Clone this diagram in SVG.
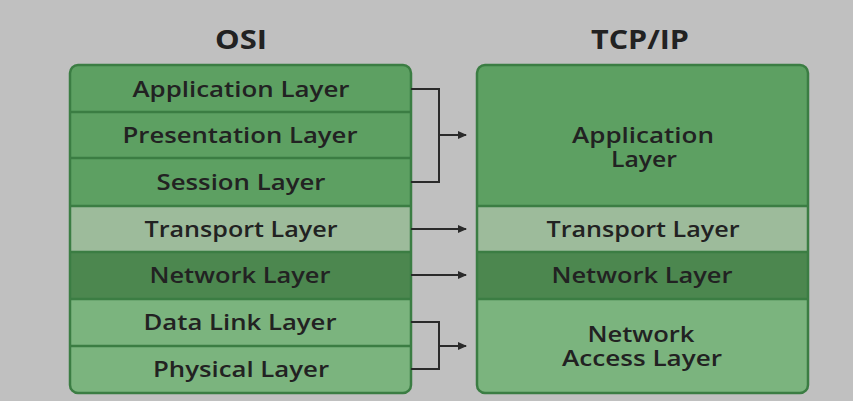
<svg xmlns="http://www.w3.org/2000/svg" width="853" height="401" viewBox="0 0 853 401">
<style>
text{font-family:"Open Sans","Liberation Sans",sans-serif;fill:#222;text-anchor:middle}
.t{font-size:21px;font-weight:600}
.h{font-size:27px;font-weight:700}
.div{stroke:#3b7d43;stroke-width:2.5}
.box{fill:none;stroke:#3b7d43;stroke-width:2.5}
.c{fill:none;stroke:#2a2a2a;stroke-width:2}
.a{fill:#5da062}.tr{fill:#9dbb9b}.nw{fill:#4c874f}.dl{fill:#7bb47e}
</style>
<defs>
<marker id="ah" markerWidth="9" markerHeight="9" refX="8" refY="4.5" orient="auto" markerUnits="userSpaceOnUse"><path d="M0,0.5 L9,4.5 L0,8.5 z" fill="#2a2a2a"/></marker>
<clipPath id="c1"><rect x="70" y="65" width="341" height="328" rx="8"/></clipPath>
<clipPath id="c2"><rect x="477" y="65" width="331" height="328" rx="8"/></clipPath>
</defs>
<rect width="853" height="401" fill="#c0c0c0"/>
<text class="h" x="241" y="49" textLength="52" lengthAdjust="spacingAndGlyphs">OSI</text>
<text class="h" x="640" y="49" textLength="98" lengthAdjust="spacingAndGlyphs">TCP/IP</text>
<g id="osi">
<g clip-path="url(#c1)">
<rect class="a" x="70" y="65" width="341" height="141"/>
<rect class="tr" x="70" y="206" width="341" height="46"/>
<rect class="nw" x="70" y="252" width="341" height="47"/>
<rect class="dl" x="70" y="299" width="341" height="94"/>
</g>
<path class="div" d="M70 112H411M70 158H411M70 206H411M70 252H411M70 299H411M70 346H411"/>
<rect class="box" x="70" y="65" width="341" height="328" rx="8"/>
</g>
<g id="osi-app"><text class="t" x="241" y="97" textLength="217" lengthAdjust="spacingAndGlyphs">Application Layer</text></g>
<g id="osi-pres"><text class="t" x="240" y="143" textLength="235" lengthAdjust="spacingAndGlyphs">Presentation Layer</text></g>
<g id="osi-sess"><text class="t" x="241" y="190" textLength="169" lengthAdjust="spacingAndGlyphs">Session Layer</text></g>
<g id="osi-trans"><text class="t" x="241" y="237" textLength="193" lengthAdjust="spacingAndGlyphs">Transport Layer</text></g>
<g id="osi-net"><text class="t" x="240" y="283" textLength="181" lengthAdjust="spacingAndGlyphs">Network Layer</text></g>
<g id="osi-dl"><text class="t" x="240" y="330" textLength="193" lengthAdjust="spacingAndGlyphs">Data Link Layer</text></g>
<g id="osi-phy"><text class="t" x="241" y="377" textLength="176" lengthAdjust="spacingAndGlyphs">Physical Layer</text></g>
<g id="tcp">
<g clip-path="url(#c2)">
<rect class="a" x="477" y="65" width="331" height="141"/>
<rect class="tr" x="477" y="206" width="331" height="46"/>
<rect class="nw" x="477" y="252" width="331" height="47"/>
<rect class="dl" x="477" y="299" width="331" height="94"/>
</g>
<path class="div" d="M477 206H808M477 252H808M477 299H808"/>
<rect class="box" x="477" y="65" width="331" height="328" rx="8"/>
</g>
<g id="tcp-app"><text class="t"><tspan x="643" y="143" textLength="142" lengthAdjust="spacingAndGlyphs">Application</tspan><tspan x="644" y="167" textLength="66" lengthAdjust="spacingAndGlyphs">Layer</tspan></text></g>
<g id="tcp-trans"><text class="t" x="643" y="237" textLength="193" lengthAdjust="spacingAndGlyphs">Transport Layer</text></g>
<g id="tcp-net"><text class="t" x="642" y="283" textLength="181" lengthAdjust="spacingAndGlyphs">Network Layer</text></g>
<g id="tcp-nal"><text class="t"><tspan x="641" y="342" textLength="107" lengthAdjust="spacingAndGlyphs">Network</tspan><tspan x="642" y="366" textLength="160" lengthAdjust="spacingAndGlyphs">Access Layer</tspan></text></g>
<g id="connectors">
<path class="c" d="M411 89H439V182H411"/>
<path class="c" d="M439 135H466" marker-end="url(#ah)"/>
<path class="c" d="M411 229H466" marker-end="url(#ah)"/>
<path class="c" d="M411 275H466" marker-end="url(#ah)"/>
<path class="c" d="M411 322H439V369H411"/>
<path class="c" d="M439 346H466" marker-end="url(#ah)"/>
</g>
</svg>
